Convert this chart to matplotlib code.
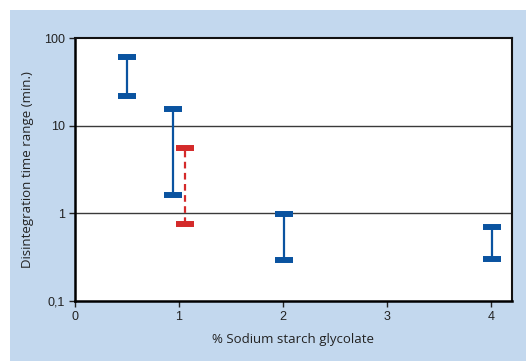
"""Disintegration time range vs. % sodium starch glycolate."""

import matplotlib

matplotlib.use("Agg")

import matplotlib.pyplot as plt
from matplotlib.patches import Rectangle
from matplotlib.ticker import FixedLocator, NullLocator

# ranges (min, max) in minutes
blue_x = [0.5, 0.94, 2.01, 4.01]
blue_lo = [22, 1.6, 0.29, 0.30]
blue_hi = [60, 15.4, 0.97, 0.69]

red_x = [1.06]
red_lo = [0.75]
red_hi = [5.5]

x_ticks = [0, 1, 2, 3, 4]
y_ticks = [0.1, 1, 10, 100]
y_tick_labels = ["0,1", "1", "10", "100"]

BLUE = "#0a53a0"
RED = "#d42a2a"
PANEL = "#c3d8ee"

plt.rcParams["font.family"] = ["Liberation Sans", "DejaVu Sans"]

fig = plt.figure(figsize=(5.26, 3.61), dpi=100, facecolor="white")
fig.patches.append(
    Rectangle((10 / 526, 0), 1, 1 - 10 / 361, transform=fig.transFigure,
              facecolor=PANEL, edgecolor="none", zorder=-10)
)

ax = fig.add_axes([75 / 526, 1 - 301 / 361, 437 / 526, 263 / 361])
ax.set_facecolor("white")
ax.set_yscale("log")
ax.set_xlim(0, 4.2)
ax.set_ylim(0.1, 100)

for y in (1, 10):
    ax.axhline(y, color="#3a3a3a", lw=1.0, zorder=1)

for x, lo, hi in zip(blue_x, blue_lo, blue_hi):
    ax.plot([x, x], [lo, hi], color=BLUE, lw=1.6, zorder=3)
    ax.plot([x, x], [lo, hi], color=BLUE, ls="none", marker="_",
            ms=13.5, mew=4.3, zorder=4)

for x, lo, hi in zip(red_x, red_lo, red_hi):
    ax.plot([x, x], [lo, hi], color=RED, lw=1.6, ls=(0, (3, 2)), zorder=3)
    ax.plot([x, x], [lo, hi], color=RED, ls="none", marker="_",
            ms=13.5, mew=4.3, zorder=4)

ax.xaxis.set_major_locator(FixedLocator(x_ticks))
ax.set_xticklabels([str(t) for t in x_ticks])
ax.yaxis.set_major_locator(FixedLocator(y_ticks))
ax.yaxis.set_minor_locator(NullLocator())
ax.set_yticklabels(y_tick_labels)

ax.tick_params(axis="both", direction="out", length=4, width=1.0,
               labelsize=9, color="#222222", labelcolor="#222222")

for side in ("left", "bottom"):
    ax.spines[side].set_linewidth(1.8)
    ax.spines[side].set_color("black")
for side in ("top", "right"):
    ax.spines[side].set_linewidth(1.5)
    ax.spines[side].set_color("#111111")

ax.set_xlabel("% Sodium starch glycolate", fontsize=9.5, color="#222222",
              family=["Open Sans", "DejaVu Sans"], labelpad=7)
ax.set_ylabel("Disintegration time range (min.)", fontsize=9.5, color="#222222",
              family=["Open Sans", "DejaVu Sans"], labelpad=7)

fig.savefig("out.png", dpi=100)
